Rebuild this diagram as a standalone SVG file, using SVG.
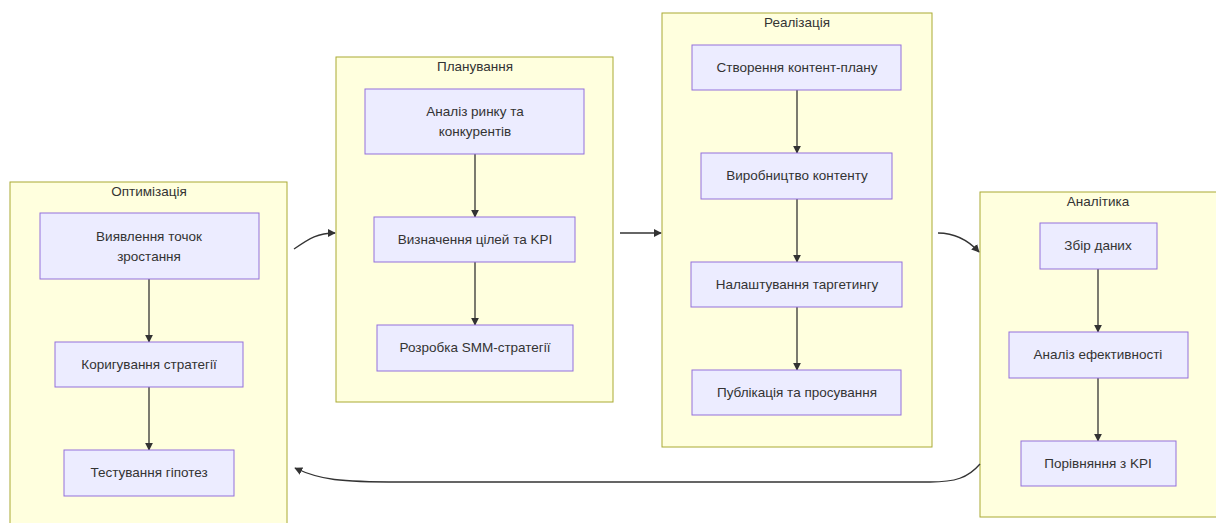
<svg xmlns="http://www.w3.org/2000/svg" width="1216" height="523" viewBox="0 0 1216 523">
<defs>
<marker id="arr" viewBox="0 0 10 10" refX="9" refY="5" markerWidth="8" markerHeight="8" markerUnits="userSpaceOnUse" orient="auto">
<path d="M0,0 L10,5 L0,10 z" fill="#333333"/>
</marker>
<style>
.cl{fill:#ffffde;stroke:#aaaa33;stroke-width:1}
.nd{fill:#ececff;stroke:#9370db;stroke-width:1}
.t{font-family:"Liberation Sans","DejaVu Sans",sans-serif;font-size:13.5px;fill:#333333;text-anchor:middle}
.e{fill:none;stroke:#333333;stroke-width:1.3;marker-end:url(#arr)}
</style>
</defs>
<rect width="1216" height="523" fill="#ffffff"/>
<g id="clusters">
<g id="c-opt"><rect class="cl" x="10" y="182" width="277" height="350"/><text class="t" x="149" y="196">Оптимізація</text></g>
<g id="c-plan"><rect class="cl" x="336" y="57" width="277" height="345"/><text class="t" x="475" y="71">Планування</text></g>
<g id="c-real"><rect class="cl" x="662" y="13" width="270" height="434"/><text class="t" x="797" y="27">Реалізація</text></g>
<g id="c-an"><rect class="cl" x="980" y="192" width="245" height="325"/><text class="t" x="1098" y="206">Аналітика</text></g>
</g>
<g id="edges">
<path class="e" d="M149,279 L149,342"/>
<path class="e" d="M149,387 L149,450"/>
<path class="e" d="M475,154 L475,217"/>
<path class="e" d="M475,262 L475,325"/>
<path class="e" d="M797,90 L797,153"/>
<path class="e" d="M797,199 L797,262"/>
<path class="e" d="M797,307 L797,370"/>
<path class="e" d="M1098,269 L1098,332"/>
<path class="e" d="M1098,378 L1098,441"/>
<path class="e" d="M294,249 C310,238 318,233 335,233"/>
<path class="e" d="M620,233 L661,233"/>
<path class="e" d="M938,233 C955,233 968,240 979,252"/>
<path class="e" d="M980,464 C968,478 955,482 930,482 L400,482 C340,482 320,480 295,468"/>
</g>
<g id="n1"><rect class="nd" x="40" y="213" width="219" height="66"/><text class="t" x="149" y="241">Виявлення точок</text><text class="t" x="149" y="261">зростання</text></g>
<g id="n2"><rect class="nd" x="55" y="342" width="188" height="45"/><text class="t" x="149" y="369">Коригування стратегії</text></g>
<g id="n3"><rect class="nd" x="64" y="450" width="170" height="46"/><text class="t" x="149" y="477">Тестування гіпотез</text></g>
<g id="n4"><rect class="nd" x="365" y="89" width="219" height="65"/><text class="t" x="475" y="116">Аналіз ринку та</text><text class="t" x="475" y="136">конкурентів</text></g>
<g id="n5"><rect class="nd" x="374" y="217" width="201" height="45"/><text class="t" x="475" y="244">Визначення цілей та KPI</text></g>
<g id="n6"><rect class="nd" x="377" y="325" width="196" height="46"/><text class="t" x="475" y="352">Розробка SMM-стратегії</text></g>
<g id="n7"><rect class="nd" x="692" y="45" width="209" height="45"/><text class="t" x="797" y="72">Створення контент-плану</text></g>
<g id="n8"><rect class="nd" x="701" y="153" width="191" height="46"/><text class="t" x="797" y="180">Виробництво контенту</text></g>
<g id="n9"><rect class="nd" x="691" y="262" width="211" height="45"/><text class="t" x="797" y="289">Налаштування таргетингу</text></g>
<g id="n10"><rect class="nd" x="692" y="370" width="209" height="45"/><text class="t" x="797" y="397">Публікація та просування</text></g>
<g id="n11"><rect class="nd" x="1040" y="223" width="117" height="46"/><text class="t" x="1098" y="250">Збір даних</text></g>
<g id="n12"><rect class="nd" x="1009" y="332" width="179" height="46"/><text class="t" x="1098" y="359">Аналіз ефективності</text></g>
<g id="n13"><rect class="nd" x="1021" y="441" width="155" height="45"/><text class="t" x="1098" y="468">Порівняння з KPI</text></g>
</svg>
